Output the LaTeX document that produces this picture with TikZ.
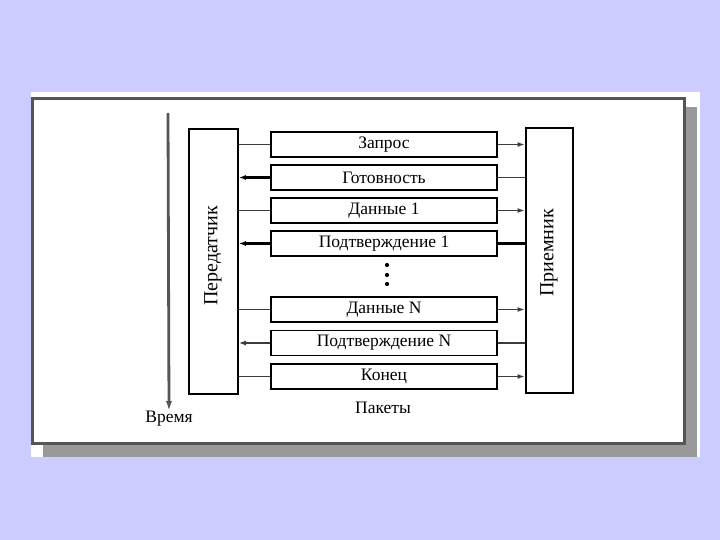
\documentclass[tikz,border=0pt]{standalone}
\usepackage{fontspec}
\setmainfont{Liberation Serif}
\usetikzlibrary{arrows.meta}
\definecolor{bglav}{RGB}{204,204,255}
\definecolor{shadowgray}{RGB}{153,153,153}
\definecolor{framegray}{RGB}{85,85,85}
\definecolor{linegray}{RGB}{60,60,60}
\tikzset{
  pkt/.style={draw=black, line width=1.9pt, fill=white, minimum width=226pt, minimum height=25pt, inner sep=0pt,
    font=\fontsize{17.5}{20}\selectfont},
  station/.style={draw=black, fill=white, inner sep=0pt},
  conn/.style={draw=linegray, line width=1.6pt},
  arr/.style={conn, -{Latex[length=7pt,width=5pt]}},
  lbl/.style={font=\fontsize{17.5}{20}\selectfont, inner sep=0pt},
  vlbl/.style={font=\fontsize{20}{22}\selectfont, inner sep=0pt, rotate=90},
}
\begin{document}
\begin{tikzpicture}[x=1pt,y=-1pt]
\useasboundingbox (0,0) rectangle (720,540);
\fill[bglav] (0,0) rectangle (720,540);
% frame
\fill[white] (31,92) rectangle (700,457);
\fill[shadowgray] (43,107) rectangle (697,457);
\filldraw[fill=white, draw=framegray, line width=3pt] (32.5,98.5) rectangle (684,443);
% time axis
\coordinate (tstart) at (168,113);
\node[lbl] (time) at (169,419) {Время};
\draw[framegray, line width=2.8pt, -{Latex[length=10pt,width=6pt]}] (tstart) -- (time.north);
% stations
\node[station, line width=1.6pt, minimum width=49pt, minimum height=265pt] (tx) at (213.5,261.5) {};
\node[vlbl] (txl) at (213,256) {Передатчик};
\node[station, line width=2.8pt, minimum width=47pt, minimum height=265pt] (rx) at (549.5,260.5) {};
\node[vlbl] (rxl) at (549,253) {Приемник};
% packets
\node[pkt] (p1) at (384,144.5) {Запрос};
\node[pkt] (p2) at (384,177.5) {Готовность};
\node[pkt] (p3) at (384,210.5) {Данные 1};
\node[pkt] (p4) at (384,243.5) {Подтверждение 1};
\node[pkt] (p5) at (384,309.5) {Данные N};
\node[pkt] (p6) at (384,343) {Подтверждение N};
\node[pkt] (p7) at (384,376.5) {Конец};
\node[lbl] (pk) at (383,408) {Пакеты};
% dots
\foreach \yy/\nm in {265/d1,275/d2,284/d3}{
  \fill (387,\yy) circle (2.1pt) coordinate (\nm);
}
% connectors: towards receiver
\foreach \p in {p1,p3,p5,p7}{
  \draw[conn] (\p.west -| tx.east) -- (\p.west);
  \draw[arr] (\p.east) -- (\p.east -| rx.west);
}
% connectors: towards transmitter
\draw[conn] (p2.east) -- (p2.east -| rx.west);
\draw[arr, draw=black, line width=2.6pt] (p2.west) -- (p2.west -| tx.east);
\draw[conn, draw=black, line width=2.4pt] (p4.east) -- (p4.east -| rx.west);
\draw[arr, draw=black, line width=2.2pt] (p4.west) -- (p4.west -| tx.east);
\draw[conn] (p6.east) -- (p6.east -| rx.west);
\draw[arr] (p6.west) -- (p6.west -| tx.east);
\end{tikzpicture}
\end{document}
